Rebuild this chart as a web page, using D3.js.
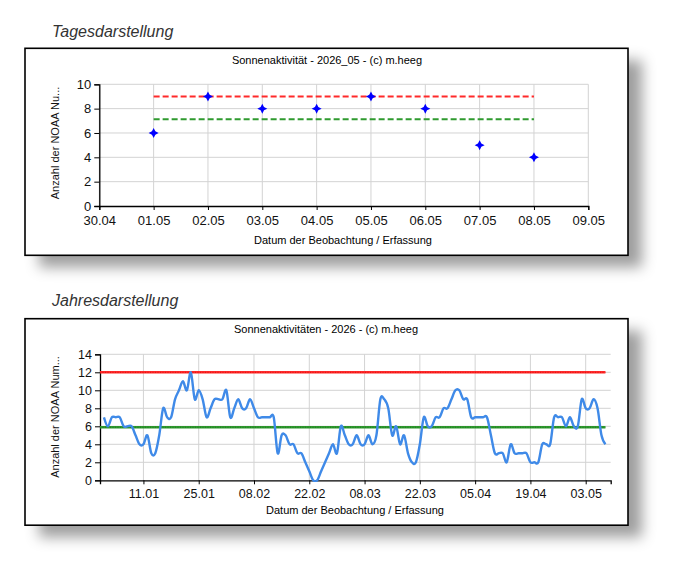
<!DOCTYPE html>
<html><head><meta charset="utf-8">
<script src="https://cdn.jsdelivr.net/npm/d3@7"></script>
<style>
html,body{margin:0;padding:0;background:#fff;}
text{font-family:"Liberation Sans",Arial,sans-serif;}
</style></head>
<body>
<svg id="c" width="675" height="578"></svg>
<script>
// ---------- DATA ----------
const dayDates = ["2026-05-01","2026-05-02","2026-05-03","2026-05-04","2026-05-05","2026-05-06","2026-05-07","2026-05-08"];
const dayValues = [6, 9, 8, 8, 9, 8, 5, 4];
const dayMax = 9;
const dayAvg = 7.125;
const dayTickLabels = ["30.04","01.05","02.05","03.05","04.05","05.05","06.05","07.05","08.05","09.05"];

const yearStart = "2026-01-01";
const yearValues = [
 7,6,7,7,7,6,6,6,5,4,
 4,5,3,3,5,8,7,7,9,10,
 11,10,12,9,10,9,7,8,9,9,
 9,10,7,8,9,8,8,9,8,7,
 7,7,7,7,3,5,5,4,4,3,
 3,2,1,0,0,1,2,3,4,3,
 6,5,4,4,5,4,4,5,4,5,
 9,9,8,5,6,4,5,3,2,2,
 4,7,6,6,7,7,8,8,9,10,
 10,9,9,7,7,7,7,7,5,3,
 3,3,2,4,3,3,3,3,2,2,
 2,4,4,4,7,7,7,6,7,6,
 6,9,8,8,9,8,5,4];
const yearMax = 12;
const yearAvg = 5.9;
const yearTickLabels = ["11.01","25.01","08.02","22.02","08.03","22.03","05.04","19.04","03.05"];

const titleDay = "Sonnenaktivität - 2026_05 - (c) m.heeg";
const titleYear = "Sonnenaktivitäten - 2026 - (c) m.heeg";
const xTitle = "Datum der Beobachtung / Erfassung";
// ---------------------------

const parse = d3.timeParse("%Y-%m-%d");
const parseDM = s => { const [d,m] = s.split("."); return new Date(2026, +m-1, +d); };
const svg = d3.select("#c");

const defs = svg.append("defs");
const f = defs.append("filter").attr("id","sh").attr("x","-10%").attr("y","-20%").attr("width","130%").attr("height","150%");
f.append("feDropShadow").attr("dx",14).attr("dy",12).attr("stdDeviation",7)
 .attr("flood-color","#000").attr("flood-opacity",0.38);

// headings
svg.append("text").attr("x",52).attr("y",37).attr("font-size",16).attr("font-style","italic")
  .attr("fill","#333").text("Tagesdarstellung");
svg.append("text").attr("x",52).attr("y",306).attr("font-size",16).attr("font-style","italic")
  .attr("fill","#333").text("Jahresdarstellung");

function box(y, h){
  svg.append("rect").attr("x",25).attr("y",y).attr("width",603).attr("height",h)
    .attr("fill","#fff").attr("filter","url(#sh)");
  svg.append("rect").attr("x",25).attr("y",y).attr("width",603).attr("height",h)
    .attr("fill","#fff").attr("stroke","#000").attr("stroke-width",1.6);
}
box(48.3, 207);
box(318.7, 206.5);

// ---------- TOP CHART ----------
(function(){
  const g = svg.append("g");
  const x = d3.scaleTime().domain([new Date(2026,3,30), new Date(2026,4,9)]).range([99.3, 588.3]);
  const y = d3.scaleLinear().domain([0,10]).range([206, 84.3]);
  const ticks = dayTickLabels.map(parseDM);
  g.append("g").selectAll("line").data(ticks).join("line")
    .attr("x1",d=>x(d)).attr("x2",d=>x(d)).attr("y1",y(0)).attr("y2",y(10))
    .attr("stroke","#d3d3d3").attr("stroke-width",1);
  g.append("g").selectAll("line").data(d3.range(2,11,2)).join("line")
    .attr("x1",x.range()[0]).attr("x2",x.range()[1]).attr("y1",d=>y(d)).attr("y2",d=>y(d))
    .attr("stroke","#d3d3d3").attr("stroke-width",1);
  const xa = g.append("g").attr("transform",`translate(0,${y(0)})`)
    .call(d3.axisBottom(x).tickValues(ticks).tickFormat((d,i)=>dayTickLabels[i]).tickSizeOuter(0).tickSize(4).tickPadding(6));
  const ya = g.append("g").attr("transform",`translate(${x.range()[0]},0)`)
    .call(d3.axisLeft(y).tickValues(d3.range(0,11,2)).tickSizeOuter(0).tickSize(5).tickPadding(3));
  [xa,ya].forEach(a=>{a.select(".domain").attr("stroke","#000").attr("stroke-width",1.3);
    a.selectAll(".tick line").attr("stroke","#000");
    a.selectAll("text").attr("font-size",13).attr("fill","#111").attr("font-family","Liberation Sans, Arial");});
  const d0 = parse(dayDates[0]), d1 = parse(dayDates[dayDates.length-1]);
  g.append("line").attr("x1",x(d0)).attr("x2",x(d1)).attr("y1",y(dayMax)).attr("y2",y(dayMax))
    .attr("stroke","#ff2a2a").attr("stroke-width",2).attr("stroke-dasharray","6,3");
  g.append("line").attr("x1",x(d0)).attr("x2",x(d1)).attr("y1",y(dayAvg)).attr("y2",y(dayAvg))
    .attr("stroke","#2f9a2f").attr("stroke-width",2).attr("stroke-dasharray","6,3");
  const r = 5, a = 1.7;
  const star = `M0,${-r}L${a},${-a}L${r},0L${a},${a}L0,${r}L${-a},${a}L${-r},0L${-a},${-a}Z`;
  g.append("g").selectAll("path").data(dayValues).join("path")
    .attr("d",star).attr("fill","#0000ff")
    .attr("transform",(d,i)=>`translate(${x(parse(dayDates[i]))},${y(d)})`);
  svg.append("text").attr("x",327).attr("y",64).attr("text-anchor","middle").attr("font-size",11).attr("fill","#000").text(titleDay);
  svg.append("text").attr("x",343).attr("y",244).attr("text-anchor","middle").attr("font-size",11).attr("fill","#000").text(xTitle);
  svg.append("text").attr("transform","translate(59,143) rotate(-90)").attr("text-anchor","middle")
    .attr("font-size",11).attr("fill","#111").text("Anzahl der NOAA Nu...");
})();

// ---------- BOTTOM CHART ----------
(function(){
  const g = svg.append("g");
  const x = d3.scaleTime().domain([new Date(2025,11,31,0), new Date(2026,4,9,8)]).range([100, 610.7]);
  const y = d3.scaleLinear().domain([0,14]).range([480.3, 354.3]);
  const ticks = yearTickLabels.map(parseDM);
  const s = parse(yearStart);
  const pts = yearValues.map((v,i)=>({date:d3.timeDay.offset(s,i), v}));
  const last = pts[pts.length-1].date;
  g.append("g").selectAll("line").data(ticks).join("line")
    .attr("x1",d=>x(d)).attr("x2",d=>x(d)).attr("y1",y(0)).attr("y2",y(14))
    .attr("stroke","#d3d3d3");
  g.append("g").selectAll("line").data(d3.range(2,15,2)).join("line")
    .attr("x1",x.range()[0]).attr("x2",x.range()[1]).attr("y1",d=>y(d)).attr("y2",d=>y(d))
    .attr("stroke","#d3d3d3");
  const xa = g.append("g").attr("transform",`translate(0,${y(0)})`)
    .call(d3.axisBottom(x).tickValues(ticks).tickFormat((d,i)=>yearTickLabels[i]).tickSizeOuter(0).tickSize(4).tickPadding(5));
  const ya = g.append("g").attr("transform",`translate(${x.range()[0]},0)`)
    .call(d3.axisLeft(y).tickValues(d3.range(0,15,2)).tickSizeOuter(0).tickSize(5).tickPadding(3));
  [xa,ya].forEach(a=>{a.select(".domain").attr("stroke","#000").attr("stroke-width",1.3);
    a.selectAll(".tick line").attr("stroke","#000");
    a.selectAll("text").attr("font-size",12.5).attr("fill","#111").attr("font-family","Liberation Sans, Arial");});
  const refs = [[yearMax,"#ff2a2a","#c80000"],[yearAvg,"#2f9a2f","#106010"]];
  refs.forEach(([v,c,c2])=>{
    g.append("line").attr("x1",x.range()[0]).attr("x2",x(last)).attr("y1",y(v)).attr("y2",y(v))
      .attr("stroke",c).attr("stroke-width",2.6);
    g.append("line").attr("x1",x.range()[0]).attr("x2",x(last)).attr("y1",y(v)).attr("y2",y(v))
      .attr("stroke",c2).attr("stroke-width",1).attr("stroke-dasharray","1,1.5").attr("opacity",0.6);
  });
  defs.append("clipPath").attr("id","pc").append("rect")
    .attr("x",100).attr("y",352).attr("width",512).attr("height",130);
  const line = d3.line().x(d=>x(d.date)).y(d=>y(d.v)).curve(d3.curveCardinal.tension(0));
  g.append("path").datum(pts).attr("d",line).attr("fill","none")
    .attr("stroke","#3f8ae8").attr("stroke-width",2.4).attr("stroke-linejoin","round").attr("clip-path","url(#pc)");
  svg.append("text").attr("x",326).attr("y",333).attr("text-anchor","middle").attr("font-size",11).attr("fill","#000").text(titleYear);
  svg.append("text").attr("x",355).attr("y",514).attr("text-anchor","middle").attr("font-size",11).attr("fill","#000").text(xTitle);
  svg.append("text").attr("transform","translate(59,417) rotate(-90)").attr("text-anchor","middle")
    .attr("font-size",11).attr("fill","#111").text("Anzahl der NOAA Num...");
})();
</script>
</body></html>
